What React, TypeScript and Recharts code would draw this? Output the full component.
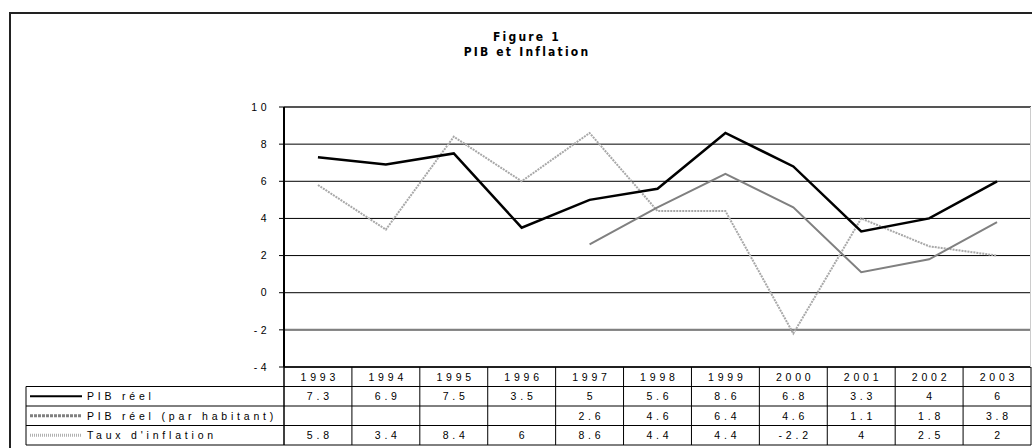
import React from "react";
import { LineChart, Line, XAxis, YAxis, CartesianGrid, ReferenceLine } from "recharts";

const years = ["1993", "1994", "1995", "1996", "1997", "1998", "1999", "2000", "2001", "2002", "2003"];
const pibReel = [7.3, 6.9, 7.5, 3.5, 5, 5.6, 8.6, 6.8, 3.3, 4, 6];
const pibHabitant: (number | null)[] = [null, null, null, null, 2.6, 4.6, 6.4, 4.6, 1.1, 1.8, 3.8];
const inflation = [5.8, 3.4, 8.4, 6, 8.6, 4.4, 4.4, -2.2, 4, 2.5, 2];
const yTicks = [-4, -2, 0, 2, 4, 6, 8, 10];
const seriesNames = ["PIB réel", "PIB réel (par habitant)", "Taux d'inflation"];
const titleLines = ["Figure 1", "PIB et Inflation"];

const data = years.map((y, i) => ({
  year: y,
  pib: pibReel[i],
  hab: pibHabitant[i],
  inf: inflation[i],
}));
const rows = [pibReel, pibHabitant, inflation];

const W = 1032;
const H = 448;
const PLOT_LEFT = 284;
const PLOT_RIGHT = 1031;
const PLOT_TOP = 107;
const PLOT_BOTTOM = 367;
const BAND = (PLOT_RIGHT - PLOT_LEFT) / years.length;
const HALF = BAND / 2;
const ROW_H = 19.5;
const TABLE_LEFT = 26;
const FONT = "'Liberation Sans', Arial, sans-serif";
const LS = 3.8;

const sampleStyles = [
  { stroke: "#000", strokeWidth: 2, dash: undefined },
  { stroke: "#808080", strokeWidth: 3, dash: "3 1" },
  { stroke: "#b0b0b0", strokeWidth: 3, dash: "1 1" },
];

const txt = (x: number, y: number, s: string, anchor: "middle" | "start" | "end" = "middle") => (
  <text
    x={x}
    y={y}
    dx={anchor === "middle" ? LS / 2 : 0}
    textAnchor={anchor}
    dominantBaseline="central"
    fontSize={10.5}
    fontFamily={FONT}
    fill="#000"
    style={{ letterSpacing: LS }}
  >
    {s}
  </text>
);

const TableTick = (props: any) => {
  const { x, y, payload } = props;
  const idx: number = payload?.index ?? props.index ?? 0;
  const right = x - HALF + (years.length - idx) * BAND;
  return (
    <g>
      {idx === 0 && (
        <g>
          {[1, 2, 3, 4].map((r) => (
            <line key={r} x1={TABLE_LEFT} x2={right} y1={y + r * ROW_H} y2={y + r * ROW_H} stroke="#000" strokeWidth={1} />
          ))}
          <line x1={TABLE_LEFT} x2={TABLE_LEFT} y1={y + ROW_H} y2={y + 4 * ROW_H} stroke="#000" strokeWidth={1} />
          <line x1={x - HALF} x2={x - HALF} y1={y} y2={y + 4 * ROW_H} stroke="#000" strokeWidth={1.5} />
          {seriesNames.map((n, r) => {
            const cy = y + (r + 1.5) * ROW_H;
            const st = sampleStyles[r];
            return (
              <g key={n}>
                <line x1={30} x2={82} y1={cy} y2={cy} stroke={st.stroke} strokeWidth={st.strokeWidth} strokeDasharray={st.dash} />
                {txt(87, cy, n, "start")}
              </g>
            );
          })}
        </g>
      )}
      <line x1={x + HALF} x2={x + HALF} y1={y} y2={y + 4 * ROW_H} stroke="#000" strokeWidth={1} />
      {txt(x, y + ROW_H / 2, String(payload.value))}
      {rows.map((arr, r) => {
        const v = arr[idx];
        return v === null || v === undefined ? null : <g key={r}>{txt(x, y + (r + 1.5) * ROW_H, String(v))}</g>;
      })}
    </g>
  );
};

export default function App() {
  return (
    <div style={{ position: "absolute", left: 0, top: 0, width: W, height: H, overflow: "hidden", background: "#fff" }}>
      <div
        style={{
          position: "absolute",
          left: 9,
          top: 12,
          width: 1100,
          height: 600,
          border: "2px solid #222",
          boxSizing: "border-box",
        }}
      />
      <div
        style={{
          position: "absolute",
          left: 9,
          width: 1036,
          top: 30,
          textAlign: "center",
          fontFamily: "'Liberation Sans Narrow', 'DejaVu Sans Condensed', sans-serif",
          fontWeight: "bold",
          fontSize: 12,
          letterSpacing: 2.2,
          lineHeight: "15px",
          color: "#000",
        }}
      >
        {titleLines.map((t) => (
          <div key={t}>{t}</div>
        ))}
      </div>
      <div style={{ position: "absolute", left: 0, top: 0 }}>
        <LineChart width={W} height={H} data={data} margin={{ top: PLOT_TOP, right: W - PLOT_RIGHT, bottom: 0, left: 0 }}>
          <CartesianGrid vertical={false} stroke="#000" strokeWidth={1} />
          <ReferenceLine y={10} stroke="#555" strokeWidth={2} />
          <ReferenceLine y={-2} stroke="#808080" strokeWidth={2} />
          <XAxis
            dataKey="year"
            height={H - PLOT_BOTTOM}
            axisLine={{ stroke: "#000", strokeWidth: 1.5 }}
            tickLine={false}
            tickSize={0}
            tickMargin={0}
            interval={0}
            padding={{ left: HALF, right: HALF }}
            tick={<TableTick />}
          />
          <YAxis
            width={PLOT_LEFT}
            domain={[-4, 10]}
            ticks={yTicks}
            interval={0}
            axisLine={{ stroke: "#000", strokeWidth: 2 }}
            tickLine={{ stroke: "#000" }}
            tickSize={5}
            tickMargin={9}
            tick={{ fontSize: 10.5, fill: "#000", fontFamily: FONT, style: { letterSpacing: 3.5 } }}
          />
          <Line dataKey="inf" stroke="#a8a8a8" strokeWidth={2} strokeDasharray="2 1" dot={false} isAnimationActive={false} />
          <Line dataKey="hab" stroke="#808080" strokeWidth={2} dot={false} isAnimationActive={false} connectNulls={false} />
          <Line dataKey="pib" stroke="#000" strokeWidth={2.5} dot={false} isAnimationActive={false} />
        </LineChart>
      </div>
      <div
        style={{
          position: "absolute",
          left: PLOT_RIGHT - 1,
          top: PLOT_TOP,
          width: 1,
          height: PLOT_BOTTOM - PLOT_TOP,
          background: "#ccc",
        }}
      />
    </div>
  );
}
